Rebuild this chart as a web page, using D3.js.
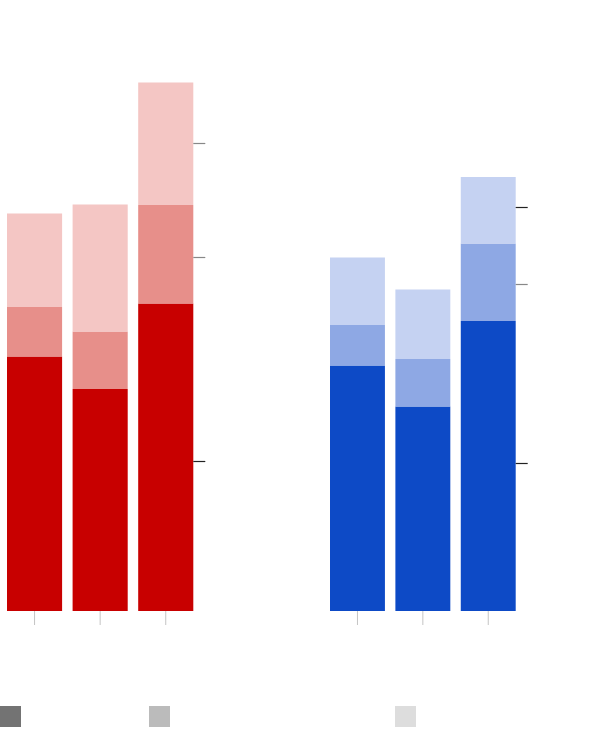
<!DOCTYPE html>
<html><head><meta charset="utf-8">
<script src="https://cdn.jsdelivr.net/npm/d3@7/dist/d3.min.js"></script>
<style>body{margin:0;background:#fff;font-family:"Noto Sans",sans-serif}</style>
</head><body><svg id="c" width="600" height="740"></svg>
<script>
const categories = ["A", "B", "C"];
const layers = ["base", "mid", "top"];
const leftBase = [50.9, 44.4, 61.5];
const leftMid = [9.9, 11.5, 19.7];
const leftTop = [18.7, 25.4, 24.5];
const rightBase = [49.1, 40.9, 58.0];
const rightMid = [8.1, 9.5, 15.5];
const rightTop = [13.5, 13.9, 13.3];
const leftTicks = [30, 70.8, 93.6];
const leftTickDark = [true, false, false];
const rightTicks = [29.6, 65.4, 80.8];
const rightTickDark = [true, false, true];
const legendItems = ["s1", "s2", "s3"];

const svg = d3.select("#c");
const y = d3.scaleLinear().domain([0, 100]).range([611, 111]);

const panels = [
  {x0: 7, x1: 193.3, vals: [leftBase, leftMid, leftTop], colors: ["#c80000", "#e78f8a", "#f4c6c4"], ticks: leftTicks, dark: leftTickDark},
  {x0: 330, x1: 515.7, vals: [rightBase, rightMid, rightTop], colors: ["#0d4ac6", "#8ea8e4", "#c5d2f2"], ticks: rightTicks, dark: rightTickDark}
];

panels.forEach(p => {
  const x = d3.scaleBand().domain(categories).range([p.x0, p.x1]).paddingInner(0.16).paddingOuter(0);
  const rows = categories.map((c, i) => {
    const o = {cat: c};
    layers.forEach((l, j) => o[l] = p.vals[j][i]);
    return o;
  });
  const series = d3.stack().keys(layers)(rows);
  const color = d3.scaleOrdinal().domain(layers).range(p.colors);
  const g = svg.append("g");
  g.selectAll("g.s").data(series).join("g").attr("fill", d => color(d.key))
    .selectAll("rect").data(d => d).join("rect")
    .attr("x", d => x(d.data.cat))
    .attr("width", x.bandwidth())
    .attr("y", d => y(d[1]))
    .attr("height", d => y(d[0]) - y(d[1]));

  // x ticks
  const xa = svg.append("g").attr("transform", `translate(0,${y(0)})`)
    .call(d3.axisBottom(x).tickSize(14).tickFormat(""));
  xa.select(".domain").remove();
  xa.selectAll(".tick line").attr("stroke", "#c4c4c4");

  // y ticks on right
  const ya = svg.append("g").attr("transform", `translate(${p.x1},0)`)
    .call(d3.axisRight(y).tickValues(p.ticks).tickSize(12).tickFormat(""));
  ya.select(".domain").remove();
  ya.selectAll(".tick line").attr("stroke", (d, i) => p.dark[i] ? "#222" : "#888").attr("stroke-width", 1.2);
});

// legend
const lx = d3.scaleOrdinal().domain(legendItems).range([0, 149, 395]);
const lc = d3.scaleOrdinal().domain(legendItems).range(["#737373", "#bbbbbb", "#dddddd"]);
svg.append("g").selectAll("rect").data(legendItems).join("rect")
  .attr("x", d => lx(d)).attr("y", 706).attr("width", 21).attr("height", 21)
  .attr("fill", d => lc(d));
</script></body></html>
